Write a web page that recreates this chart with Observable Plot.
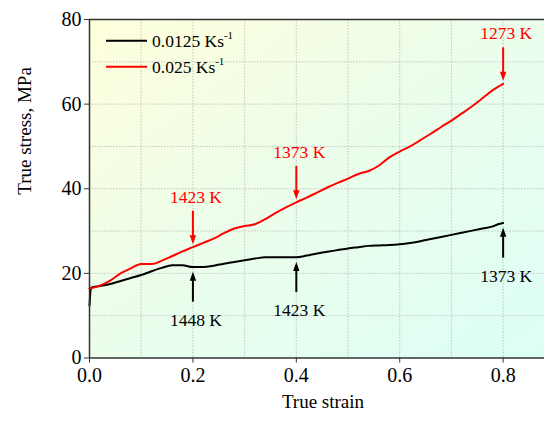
<!DOCTYPE html>
<html>
<head>
<meta charset="utf-8">
<script src="https://cdn.jsdelivr.net/npm/d3@7"></script>
<script src="https://cdn.jsdelivr.net/npm/@observablehq/plot@0.6"></script>
<style>
  html, body { margin: 0; padding: 0; background: #fff; }
  svg { display: block; }
</style>
</head>
<body>
<div id="chart"></div>
<script>
// ---- data ----
const strainBlack = [0, 0.003, 0.02, 0.04, 0.06, 0.08, 0.10, 0.12, 0.14, 0.16, 0.18, 0.20, 0.22, 0.24, 0.26, 0.28, 0.30, 0.32, 0.34, 0.36, 0.38, 0.40, 0.42, 0.44, 0.46, 0.48, 0.50, 0.52, 0.54, 0.56, 0.58, 0.60, 0.62, 0.64, 0.66, 0.68, 0.70, 0.72, 0.74, 0.76, 0.78, 0.79, 0.80];
const stressBlack = [12.4, 16.6, 17.0, 17.5, 18.2, 18.9, 19.6, 20.5, 21.3, 21.9, 21.9, 21.5, 21.5, 21.8, 22.3, 22.7, 23.1, 23.5, 23.8, 23.8, 23.8, 23.8, 24.2, 24.7, 25.1, 25.5, 25.9, 26.2, 26.5, 26.6, 26.7, 26.9, 27.2, 27.6, 28.1, 28.6, 29.1, 29.6, 30.1, 30.6, 31.1, 31.6, 31.9];
const strainRed = [0, 0.02, 0.04, 0.06, 0.08, 0.10, 0.12, 0.14, 0.16, 0.18, 0.20, 0.22, 0.24, 0.26, 0.28, 0.30, 0.32, 0.34, 0.36, 0.38, 0.40, 0.42, 0.44, 0.46, 0.48, 0.50, 0.52, 0.54, 0.56, 0.58, 0.60, 0.62, 0.64, 0.66, 0.68, 0.70, 0.72, 0.74, 0.76, 0.78, 0.80];
const stressRed = [16.4, 17.1, 18.3, 20.0, 21.2, 22.2, 22.2, 23.0, 24.1, 25.2, 26.2, 27.2, 28.2, 29.5, 30.6, 31.2, 31.6, 32.8, 34.3, 35.6, 36.8, 37.9, 39.1, 40.3, 41.4, 42.4, 43.5, 44.2, 45.5, 47.4, 48.8, 50.0, 51.5, 53.0, 54.6, 56.1, 57.8, 59.5, 61.4, 63.3, 64.8];

const seriesNames = ["0.0125 Ks", "0.025 Ks"];
const seriesColors = ["#000000", "#ff0000"];

const xTicks = [0, 0.2, 0.4, 0.6, 0.8];
const yTicks = [0, 20, 40, 60, 80];
const xGrid = [0.1, 0.2, 0.3, 0.4, 0.5, 0.6, 0.7, 0.8];
const yGrid = [10, 20, 30, 40, 50, 60, 70];

// annotations: strain at which an arrow points to a curve, temperature label
const annoStrainRed = [0.2, 0.4, 0.8];
const annoLabelRed = ["1423 K", "1373 K", "1273 K"];
const annoStrainBlack = [0.2, 0.4, 0.8];
const annoLabelBlack = ["1448 K", "1423 K", "1373 K"];

// ---- build tables ----
const blackData = strainBlack.map((x, i) => ({x, y: stressBlack[i]}));
const redData = strainRed.map((x, i) => ({x, y: stressRed[i]}));
const valueAt = (xs, ys, x) => ys[xs.findIndex(v => Math.abs(v - x) < 1e-9)];
const redAnno = annoStrainRed.map((x, i) => ({x, v: valueAt(strainRed, stressRed, x), label: annoLabelRed[i]}));
const blackAnno = annoStrainBlack.map((x, i) => ({x, v: valueAt(strainBlack, stressBlack, x), label: annoLabelBlack[i]}));

const headDown = {draw(ctx) { ctx.moveTo(-3.2, -9); ctx.lineTo(3.2, -9); ctx.lineTo(0, 0); ctx.closePath(); }};
const headUp = {draw(ctx) { ctx.moveTo(-3.2, 9); ctx.lineTo(3.2, 9); ctx.lineTo(0, 0); ctx.closePath(); }};

const font = "Liberation Serif, Times New Roman, serif";
const axisColor = "#333";

const chart = Plot.plot({
  width: 544,
  height: 421,
  marginLeft: 89,
  marginRight: 0,
  marginTop: 19,
  marginBottom: 63.5,
  x: {domain: [0, 0.88]},
  y: {domain: [0, 80]},
  style: {fontFamily: font, fontSize: "20px", color: "#000", background: "transparent"},
  marks: [
    Plot.frame({fill: "url(#bgGrad)", stroke: null}),
    Plot.gridX(xGrid, {stroke: "#b8b8b8", strokeOpacity: 1, strokeDasharray: "1.5,1.5", strokeWidth: 0.8}),
    Plot.gridY(yGrid, {stroke: "#b8b8b8", strokeOpacity: 1, strokeDasharray: "1.5,1.5", strokeWidth: 0.8}),
    Plot.line(blackData, {x: "x", y: "y", stroke: seriesColors[0], strokeWidth: 2, curve: "monotone-x"}),
    Plot.line(redData, {x: "x", y: "y", stroke: seriesColors[1], strokeWidth: 2, curve: "monotone-x"}),
    // red arrows (pointing down to the curve)
    Plot.ruleX(redAnno, {x: "x", y1: d => d.v + 2, y2: d => d.v + 8.5, stroke: seriesColors[1], strokeWidth: 2}),
    Plot.dot(redAnno, {x: "x", y: d => d.v + 0.7, symbol: headDown, fill: seriesColors[1], stroke: null, r: 4}),
    Plot.text(redAnno, {x: "x", y: d => d.v + 11.8, text: "label", fill: seriesColors[1], fontSize: 17.5, dx: 3}),
    // black arrows (pointing up to the curve)
    Plot.ruleX(blackAnno, {x: "x", y1: d => d.v - 8.3, y2: d => d.v - 2.5, stroke: seriesColors[0], strokeWidth: 2}),
    Plot.dot(blackAnno, {x: "x", y: d => d.v - 1.1, symbol: headUp, fill: seriesColors[0], stroke: null, r: 4}),
    Plot.text(blackAnno, {x: "x", y: d => d.v - 12.6, text: "label", fill: seriesColors[0], fontSize: 17.5, dx: 3}),
    // frame lines
    Plot.ruleY([0], {stroke: axisColor, strokeWidth: 1.5}),
    Plot.ruleY([80], {stroke: axisColor, strokeWidth: 1.5}),
    Plot.ruleX([0], {stroke: axisColor, strokeWidth: 1.5}),
    Plot.axisX({ticks: xTicks, tickFormat: d3.format(".1f"), tickSize: 5, tickPadding: 5, label: null, stroke: axisColor, fontSize: 20}),
    Plot.axisY({ticks: yTicks, tickSize: 5, tickPadding: 3, label: null, stroke: axisColor, fontSize: 20}),
    Plot.text(["True strain"], {frameAnchor: "bottom", dy: 50, dx: 6, fontSize: 19}),
    Plot.text(["True stress, MPa"], {frameAnchor: "left", dx: -65, dy: 6, rotate: -90, fontSize: 19})
  ]
});

const svg = d3.select(chart);
const defs = svg.insert("defs", ":first-child");
const grad = defs.append("linearGradient").attr("id", "bgGrad")
  .attr("x1", "0").attr("y1", "0").attr("x2", "1").attr("y2", "1");
grad.append("stop").attr("offset", "0").attr("stop-color", "#ffffdc");
grad.append("stop").attr("offset", "0.45").attr("stop-color", "#ecfdea");
grad.append("stop").attr("offset", "1").attr("stop-color", "#dcfff6");

// legend inside the plot, top-left
const lg = svg.append("g").attr("font-family", font).attr("font-size", 17.5).attr("text-anchor", "start");
seriesNames.forEach((name, i) => {
  const y = 40.7 + i * 26;
  lg.append("line").attr("x1", 106).attr("x2", 147).attr("y1", y).attr("y2", y)
    .attr("stroke", seriesColors[i]).attr("stroke-width", 2);
  const t = lg.append("text").attr("x", 152).attr("y", y).attr("dy", "0.35em").attr("fill", "#000").attr("text-anchor", "start");
  t.append("tspan").text(name);
  t.append("tspan").attr("font-size", 11).attr("dy", "-0.75em").text("-1");
});

document.getElementById("chart").appendChild(chart);
</script>
</body>
</html>
